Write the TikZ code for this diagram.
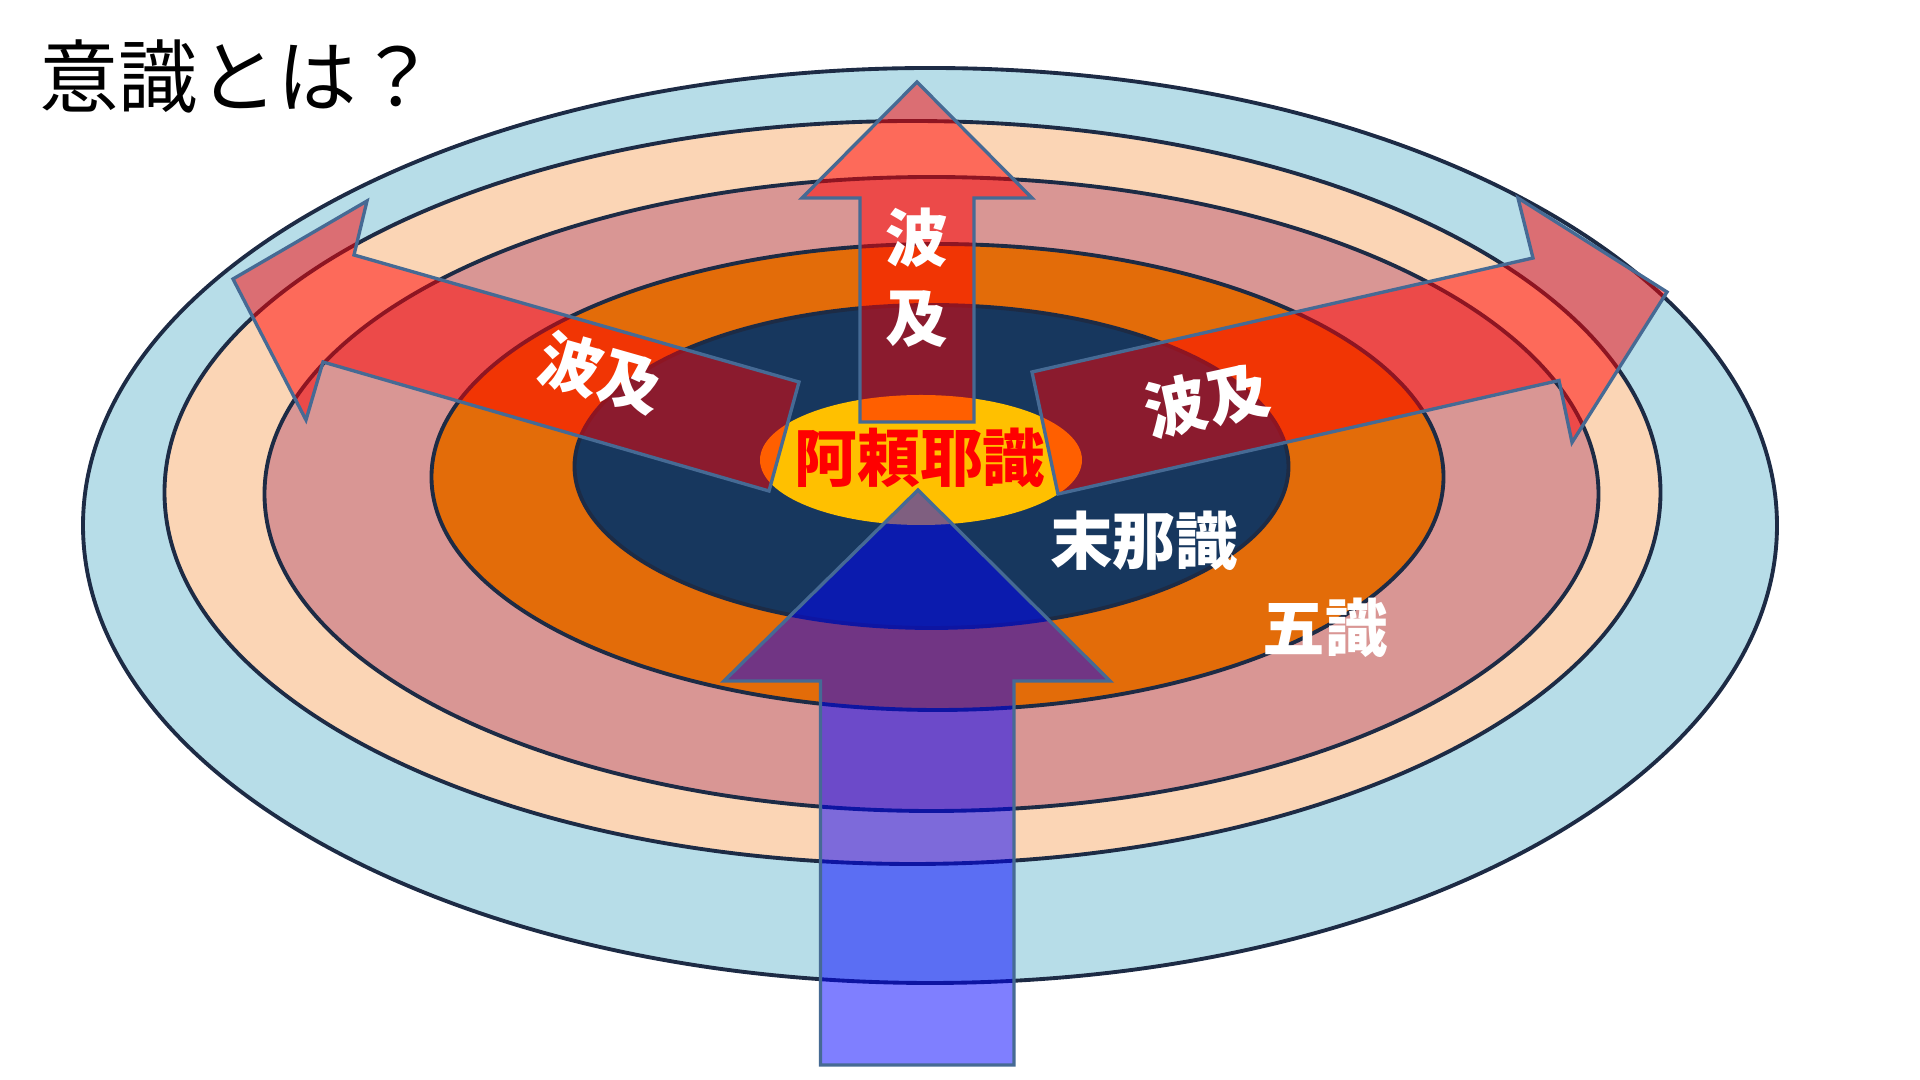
\documentclass[tikz,border=0pt]{standalone}
\usepackage{fontspec}
\newfontfamily\jpfont{Noto Sans CJK JP}
\definecolor{ringBlue}{HTML}{B7DDE8}
\definecolor{ringPeach}{HTML}{FBD5B5}
\definecolor{ringPink}{HTML}{D99694}
\definecolor{ringOrange}{HTML}{E36C09}
\definecolor{ringNavy}{HTML}{17375E}
\definecolor{coreYellow}{HTML}{FFC000}
\definecolor{ringEdge}{HTML}{1D2B45}
\definecolor{arrowEdge}{HTML}{466A94}

\begin{document}
\begin{tikzpicture}[x=0.01cm,y=-0.01cm]
 \tikzset{
  ringLine/.style={draw=ringEdge, line width=1.1pt},
  waveArrow/.style={fill=red, fill opacity=0.5, draw=arrowEdge, line width=0.95pt, line join=miter},
  rootArrow/.style={fill=blue, fill opacity=0.5, draw=arrowEdge, line width=0.95pt, line join=miter},
  ringLabel/.style={inner sep=0pt, text=white, font=\jpfont\bfseries\fontsize{17.8}{22.8}\selectfont},
  coreLabel/.style={inner sep=0pt, text=red, font=\jpfont\bfseries\fontsize{17.8}{22.8}\selectfont}
  }
  \useasboundingbox[fill=white] (0,0) rectangle (1920,1080);
  % the rings, outside in
  \draw[ringLine, fill=ringBlue] (930,525.5) ellipse [x radius=847, y radius=457.5];
  \draw[ringLine, fill=ringPeach] (912.5,492.5) ellipse [x radius=748, y radius=371.5];
  \draw[ringLine, fill=ringPink] (931.5,494) ellipse [x radius=667, y radius=317];
  \draw[ringLine, fill=ringOrange] (937.5,477) ellipse [x radius=506, y radius=233];
  \draw[ringLine, fill=ringNavy] (931.5,466.5) ellipse [x radius=357, y radius=161.5];
  % the core
  \fill[coreYellow] (921,460) ellipse [x radius=161, y radius=65];

  % spreading arrows
  \draw[waveArrow] (860,422) -- (860,198) -- (802,198) -- (917,82) -- (1032,198)
    -- (974,198) -- (974,422) -- cycle;
  \draw[waveArrow] (799,382) -- (354,255) -- (367,201) -- (233,279) -- (306,420)
    -- (323,362) -- (769,491) -- cycle;
  \draw[waveArrow] (1032,372) -- (1533,258) -- (1518,198) -- (1667,292) -- (1572,442.5)
    -- (1559,380.5) -- (1058,494) -- cycle;
  % arrow from below
  \draw[rootArrow] (820.5,1065) -- (820.5,681) -- (724,681) -- (918,490) -- (1110,681)
    -- (1014,681) -- (1014,1065) -- cycle;

  % labels
  \node[inner sep=0pt, font=\jpfont\fontsize{22.6}{27}\selectfont] (title) at (238,77) {意識とは？};
  \node[coreLabel] (alaya) at (920,458) {阿頼耶識};
  \node[ringLabel, align=center] (waveUp) at (917,278) {波\\及};
  \node[ringLabel, rotate=-15.9] (waveLeft) at (601,373) {波及};
  \node[ringLabel, rotate=12.4] (waveRight) at (1207,400) {波及};
  \node[ringLabel] (manas) at (1144,541) {末那識};
  \node[ringLabel] (fiveSense) at (1325,628) {五識};
\end{tikzpicture}
\end{document}
